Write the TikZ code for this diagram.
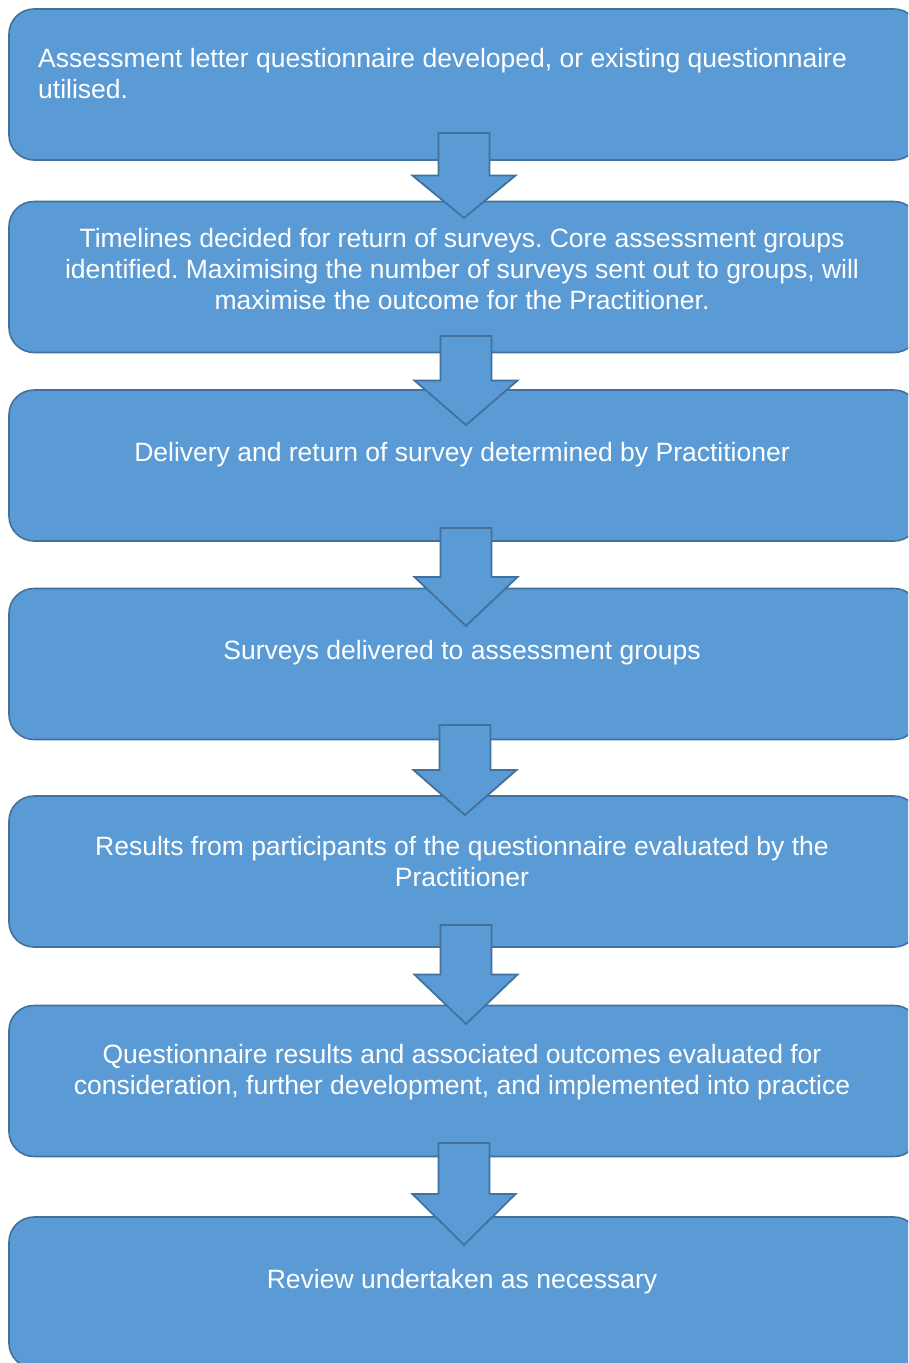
\documentclass[tikz,border=0pt]{standalone}
\usepackage{fontspec}
\setmainfont{Liberation Sans}
\frenchspacing
\definecolor{boxfill}{HTML}{5B9BD5}
\definecolor{boxline}{HTML}{41719C}
\tikzset{
  stepbox/.style={draw=boxline, fill=boxfill, line width=1.6pt, rounded corners=25pt,
    minimum width=910pt, minimum height=151pt, inner sep=0pt, outer sep=0pt},
  boxtext/.style={text=white, font=\fontsize{26.5}{31}\selectfont, inner sep=0pt},
  blockarrow/.style={draw=boxline, fill=boxfill, line width=1.8pt, line join=miter}
}
\newcommand{\blockarr}[4]{% name, x, top, tip
  \path[blockarrow] (#2-25.5,#3) -- (#2+25.5,#3) -- (#2+25.5,{(#3+#4)/2}) -- (#2+51.5,{(#3+#4)/2})
    -- (#2,#4) -- (#2-51.5,{(#3+#4)/2}) -- (#2-25.5,{(#3+#4)/2}) -- cycle;
  \coordinate (#1) at (#2,#4);
}
\begin{document}
\begin{tikzpicture}[x=1pt,y=-1pt]
\useasboundingbox (0,0) rectangle (908,1363);
\clip (0,0) rectangle (908,1363);
\fill[white] (0,0) rectangle (908,1363);
% boxes
\node[stepbox] (b1) at (464,84.5) {};
\node[stepbox] (b2) at (464,277) {};
\node[stepbox] (b3) at (464,465.5) {};
\node[stepbox] (b4) at (464,664) {};
\node[stepbox] (b5) at (464,871.5) {};
\node[stepbox] (b6) at (464,1081) {};
\node[stepbox] (b7) at (464,1292.5) {};
% texts
\node[boxtext, align=left, anchor=west] (t1) at (38,74) {Assessment letter questionnaire developed, or existing questionnaire\\utilised.};
\node[boxtext, align=center] (t2) at (462,269) {Timelines decided for return of surveys. Core assessment groups\\identified. Maximising the number of surveys sent out to groups, will\\maximise the outcome for the Practitioner.};
\node[boxtext, align=center] (t3) at (462,455) {Delivery and return of survey determined by Practitioner};
\node[boxtext, align=center] (t4) at (462,653) {Surveys delivered to assessment groups};
\node[boxtext, align=center] (t5) at (462,862) {Results from participants of the questionnaire evaluated by the\\Practitioner};
\node[boxtext, align=center] (t6) at (462,1072) {Questionnaire results and associated outcomes evaluated for\\consideration, further development, and implemented into practice};
\node[boxtext, align=center] (t7) at (462,1282) {Review undertaken as necessary};
% arrows
\blockarr{a1}{464}{133}{218}
\blockarr{a2}{466}{336}{425}
\blockarr{a3}{466}{528}{626}
\blockarr{a4}{465}{725}{815}
\blockarr{a5}{466}{925}{1024}
\blockarr{a6}{464}{1143}{1245}
\end{tikzpicture}
\end{document}
